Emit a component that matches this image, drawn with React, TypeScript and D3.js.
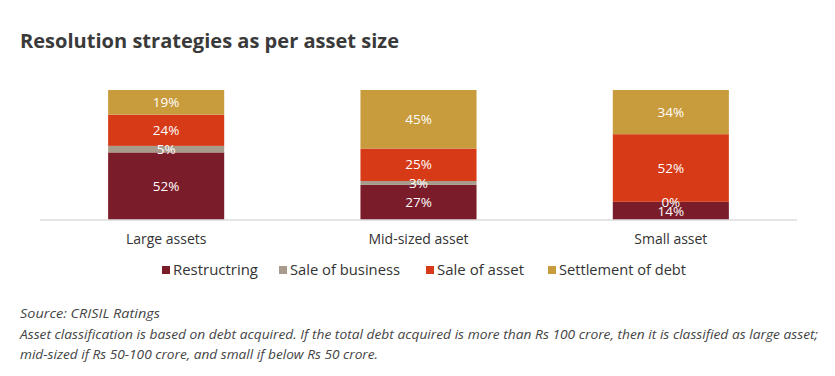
import React from "react";
import * as d3 from "d3";

const categories = ["Large assets", "Mid-sized asset", "Small asset"];
const seriesNames = ["Restructring", "Sale of business", "Sale of asset", "Settlement of debt"];
const restructuring = [52, 27, 14];
const saleOfBusiness = [5, 3, 0];
const saleOfAsset = [24, 25, 52];
const settlementOfDebt = [19, 45, 34];
const colors = ["#7B1C2A", "#A89B8B", "#D63A17", "#C89B3C"];

const W = 835;
const H = 376;

export default function App() {
  const rows = categories.map((c, i) => ({
    cat: c,
    s0: restructuring[i],
    s1: saleOfBusiness[i],
    s2: saleOfAsset[i],
    s3: settlementOfDebt[i],
  }));
  const keys = ["s0", "s1", "s2", "s3"];
  const stacked = d3.stack<any>().keys(keys)(rows);

  const x = d3.scaleBand().domain(categories).range([40, 797]).paddingInner(0.54).paddingOuter(0.27);
  const y = d3.scaleLinear().domain([0, 100]).range([220, 90]);

  const legendX = [162, 279, 426, 548];
  const legendW = [85, 110, 87, 127];
  const font = "'Open Sans', sans-serif";

  return (
    <svg width={W} height={H} style={{ position: "absolute", left: 0, top: 0, background: "#fff" }}>
      <text x={20} y={48} fontFamily={font} fontWeight={700} fontSize={19.5} fill="#3a3a3a" textLength={379} lengthAdjust="spacingAndGlyphs">
        Resolution strategies as per asset size
      </text>
      {stacked.map((layer, li) => (
        <g key={li}>
          {layer.map((d, i) => (
            <rect
              key={i}
              x={x(categories[i])}
              width={x.bandwidth()}
              y={y(d[1])}
              height={y(d[0]) - y(d[1])}
              fill={colors[li]}
            />
          ))}
        </g>
      ))}
      <line x1={40} x2={797} y1={220} y2={220} stroke="#dcdcdc" strokeWidth={1.5} />
      {stacked.map((layer, li) => (
        <g key={"l" + li}>
          {layer.map((d, i) => (
            <text
              key={i}
              x={(x(categories[i]) as number) + x.bandwidth() / 2}
              y={(y(d[0]) + y(d[1])) / 2}
              dy="0.35em"
              textAnchor="middle"
              fontFamily={font}
              fontSize={13.5}
              fill="#fff"
            >
              {d[1] - d[0]}%
            </text>
          ))}
        </g>
      ))}
      {categories.map((c) => (
        <text
          key={c}
          x={(x(c) as number) + x.bandwidth() / 2}
          y={244}
          textAnchor="middle"
          fontFamily={font}
          fontSize={14}
          fill="#333"
        >
          {c}
        </text>
      ))}
      {seriesNames.map((s, i) => (
        <g key={s}>
          <rect x={legendX[i]} y={266} width={8} height={8} fill={colors[i]} />
          <text x={legendX[i] + 11} y={275} fontFamily={font} fontSize={14.5} fill="#333" textLength={legendW[i]} lengthAdjust="spacingAndGlyphs">
            {s}
          </text>
        </g>
      ))}
      <g fontFamily={font} fontStyle="italic" fontSize={12.5} fill="#444">
        <text x={20} y={318} textLength={140} lengthAdjust="spacingAndGlyphs">Source: CRISIL Ratings</text>
        <text x={20} y={339} textLength={798} lengthAdjust="spacingAndGlyphs">
          Asset classification is based on debt acquired. If the total debt acquired is more than Rs 100 crore, then it is classified as large asset;
        </text>
        <text x={20} y={359} textLength={358} lengthAdjust="spacingAndGlyphs">mid-sized if Rs 50-100 crore, and small if below Rs 50 crore.</text>
      </g>
    </svg>
  );
}
